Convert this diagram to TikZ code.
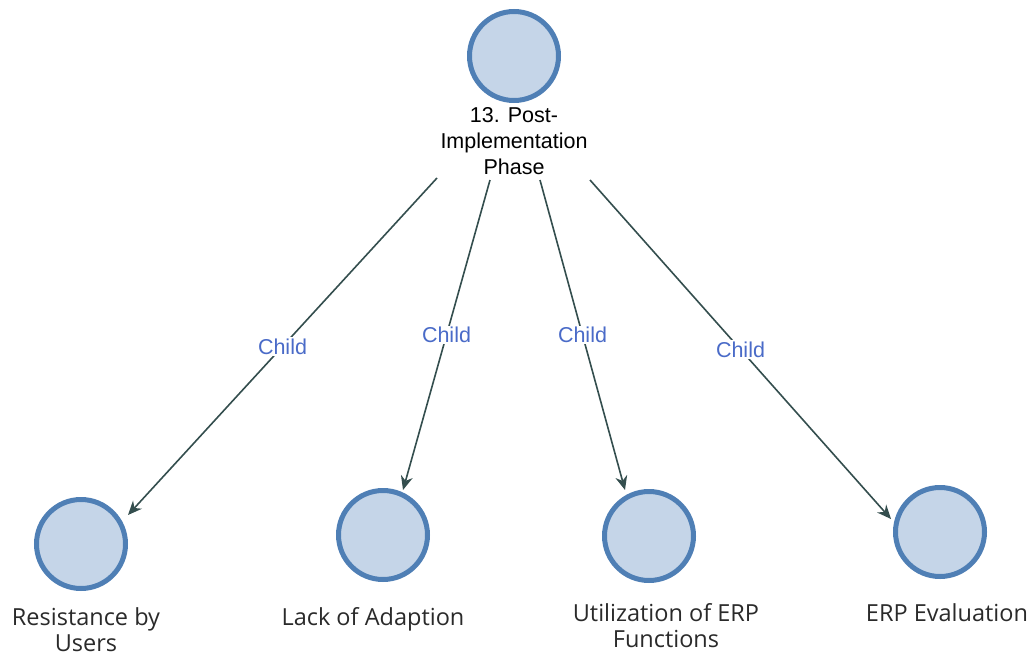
\documentclass[tikz,border=0pt]{standalone}
\usepackage{fontspec}
\setmainfont{Liberation Sans}
\newfontfamily\labelfont{Open Sans}
\usetikzlibrary{arrows.meta}
\definecolor{circfill}{HTML}{C5D5E8}
\definecolor{circdraw}{HTML}{4F7FB5}
\definecolor{edgecol}{HTML}{344E4E}
\definecolor{childcol}{HTML}{4A6BC8}
\definecolor{textcol}{HTML}{2A2A2A}
\tikzset{
  topic/.style={circle, fill=circfill, draw=circdraw, line width=5pt, minimum size=89pt, inner sep=0pt},
  toptext/.style={align=center, font=\fontsize{21.5}{26}\selectfont, text=black, inner sep=0pt},
  leaftext/.style={align=center, font=\labelfont\fontsize{23.5}{26}\selectfont, text=textcol, inner sep=0pt},
  edge/.style={draw=edgecol, line width=1.6pt, -{Stealth[length=14pt, width=12pt]}},
  rel/.style={fill=white, text=childcol, font=\fontsize{21.5}{24}\selectfont, inner sep=1.5pt}
}
\begin{document}
\begin{tikzpicture}[x=1pt, y=-1pt]
  \useasboundingbox (0,0) rectangle (1033,656);
  % parent topic
  \node[topic] (top) at (514,56) {};
  \node[toptext, anchor=north] (toplabel) at (514,107) {13. Post-\\Implementation\\Phase};
  % child topics
  \node[topic] (c1) at (81,544) {};
  \node[topic] (c2) at (383,535) {};
  \node[topic] (c3) at (649,536) {};
  \node[topic] (c4) at (940,532) {};
  \node[leaftext, anchor=north] (l1) at (86,607) {Resistance by\\Users};
  \node[leaftext, anchor=north] (l2) at (373,607) {Lack of Adaption};
  \node[leaftext, anchor=north] (l3) at (666,603) {Utilization of ERP\\Functions};
  \node[leaftext, anchor=north] (l4) at (947,603) {ERP Evaluation};
  % connector end points
  \coordinate (s1) at (437,178);
  \coordinate (s2) at (490,180);
  \coordinate (s3) at (540,180);
  \coordinate (s4) at (590,180);
  \coordinate (e1) at (128,515);
  \coordinate (e2) at (403,490);
  \coordinate (e3) at (625,490);
  \coordinate (e4) at (891,519);
  \draw[edge] (s1) -- node[rel] {Child} (e1);
  \draw[edge] (s2) -- node[rel] {Child} (e2);
  \draw[edge] (s3) -- node[rel] {Child} (e3);
  \draw[edge] (s4) -- node[rel] {Child} (e4);
\end{tikzpicture}
\end{document}
